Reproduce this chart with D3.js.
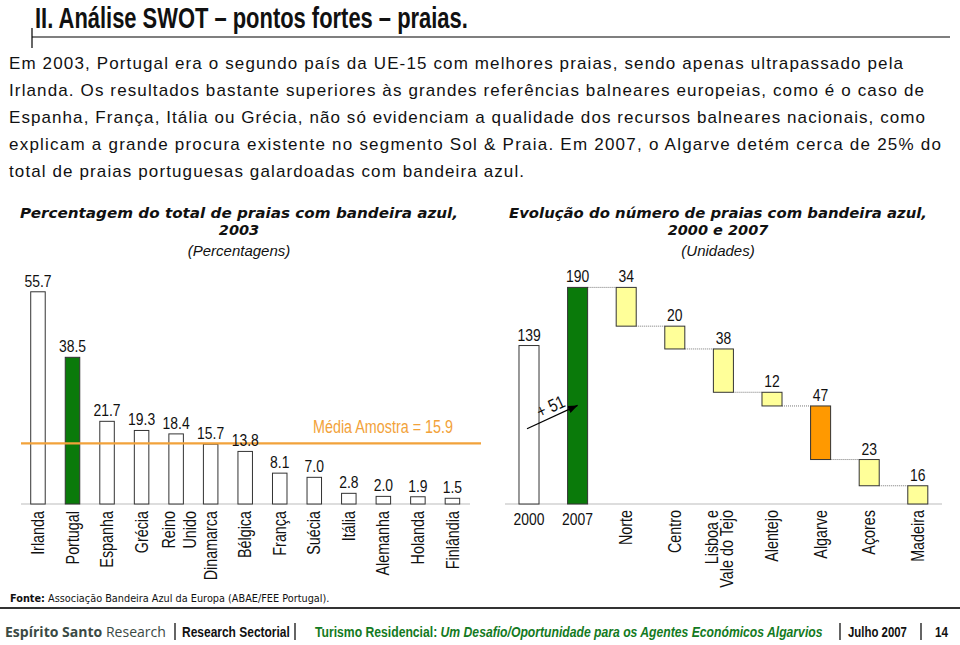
<!DOCTYPE html>
<html><head><meta charset="utf-8">
<script src="https://cdn.jsdelivr.net/npm/d3@7"></script>
<style>html,body{margin:0;padding:0;background:#fff;}svg{display:block;}</style>
</head><body>
<svg id="chart" width="960" height="645"></svg>
<script>
// ---------------- DATA ----------------
const countries = ["Irlanda","Portugal","Espanha","Grécia","Reino\nUnido","Dinamarca","Bélgica","França","Suécia","Itália","Alemanha","Holanda","Finlândia"];
const shares2003 = [55.7,38.5,21.7,19.3,18.4,15.7,13.8,8.1,7.0,2.8,2.0,1.9,1.5];
const sampleMean = 15.9;
const stages = ["2000","2007","Norte","Centro","Lisboa e\nVale do Tejo","Alentejo","Algarve","Açores","Madeira"];
const beachCounts = [139,190,34,20,38,12,47,23,16];
const growthLabel = "+ 51";
const paragraph = [
 "Em 2003, Portugal era o segundo país da UE-15 com melhores praias, sendo apenas ultrapassado pela",
 "Irlanda. Os resultados bastante superiores às grandes referências balneares europeias, como é o caso de",
 "Espanha, França, Itália ou Grécia, não só evidenciam a qualidade dos recursos balneares nacionais, como",
 "explicam a grande procura existente no segmento Sol & Praia. Em 2007, o Algarve detém cerca de 25% do",
 "total de praias portuguesas galardoadas com bandeira azul."
];

// ---------------- STYLE ----------------
const SANS = "'Liberation Sans',Arial,sans-serif";
const VERD = "'DejaVu Sans',Verdana,sans-serif";
const GREEN = "#0a7a0a", YELLOW = "#ffff99", ORANGE = "#ff9900", MEANC = "#f2a23a";
const NX = 0.82; // horizontal squeeze emulating a narrow face

const svg = d3.select("#chart");

function ntext(g, x, y, str, o={}){
  const rot = o.rotate ? ` rotate(${o.rotate})` : "";
  const t = g.append("text")
    .attr("transform",`translate(${x},${y})${rot} scale(${o.sx||NX},1)`)
    .attr("text-anchor",o.anchor||"start")
    .attr("font-family",SANS).attr("font-size",o.size||16)
    .attr("fill",o.fill||"#111");
  if(o.bold) t.attr("font-weight","bold");
  if(o.dy) t.attr("dy",o.dy);
  t.text(str);
  return t;
}
function fit(t, x, y, w){
  const L = t.node().getComputedTextLength();
  t.attr("transform",`translate(${x},${y}) scale(${w/L},1)`);
  return t;
}

// ---------------- HEADER ----------------
fit(svg.append("text").attr("font-family",SANS).attr("font-weight","bold").attr("font-size",30)
  .attr("fill","#111").text("II. Análise SWOT – pontos fortes – praias."), 35, 28, 433);
svg.append("line").attr("x1",32).attr("x2",950).attr("y1",37).attr("y2",37).attr("stroke","#000").attr("stroke-width",1.2);
svg.append("line").attr("x1",32).attr("x2",32).attr("y1",28).attr("y2",48).attr("stroke","#000").attr("stroke-width",1.2);

const paraWidths = [894,915,916,932,515];
svg.append("g").selectAll("text").data(paragraph).join("text")
  .attr("x",9).attr("y",(d,i)=>69+i*27)
  .attr("font-family",SANS).attr("font-size",17).attr("fill","#111")
  .attr("textLength",(d,i)=>paraWidths[i]).attr("lengthAdjust","spacing")
  .text(d=>d);

// ---------------- LEFT CHART ----------------
const xL = d3.scaleBand().domain(countries).range([20.7,469.7]).paddingInner(0.58).paddingOuter(0.29);
const yL = d3.scaleLinear().domain([0,60]).range([504,504-60*3.81]);
const gL = svg.append("g");

function title(g, cx, lines, w1){
  g.append("text").attr("x",cx).attr("y",218).attr("text-anchor","middle")
   .attr("font-family",VERD).attr("font-weight","bold").attr("font-style","italic").attr("font-size",14.5)
   .attr("fill","#111").attr("textLength",w1).attr("lengthAdjust","spacingAndGlyphs").text(lines[0]);
  g.append("text").attr("x",cx).attr("y",235).attr("text-anchor","middle")
   .attr("font-family",VERD).attr("font-weight","bold").attr("font-style","italic").attr("font-size",14.5)
   .attr("fill","#111").text(lines[1]);
  g.append("text").attr("x",cx).attr("y",256).attr("text-anchor","middle")
   .attr("font-family",SANS).attr("font-style","italic").attr("font-size",15)
   .attr("fill","#111").text(lines[2]);
}
title(gL, 239, ["Percentagem do total de praias com bandeira azul,","2003","(Percentagens)"],438);

gL.append("line").attr("x1",21).attr("x2",470).attr("y1",yL(0)).attr("y2",yL(0)).attr("stroke","#bbb").attr("stroke-width",1);
gL.selectAll("rect.bar").data(shares2003).join("rect").attr("class","bar")
  .attr("x",(d,i)=>xL(countries[i])).attr("width",xL.bandwidth())
  .attr("y",d=>yL(d)).attr("height",d=>yL(0)-yL(d))
  .attr("fill",(d,i)=>countries[i]==="Portugal"?GREEN:"#fff").attr("stroke","#333").attr("stroke-width",1);

gL.append("line").attr("x1",21).attr("x2",481).attr("y1",yL(sampleMean)).attr("y2",yL(sampleMean))
  .attr("stroke",MEANC).attr("stroke-width",2.2);
ntext(gL, 383, yL(sampleMean)-10, "Média Amostra = " + d3.format(".1f")(sampleMean), {anchor:"middle", size:17.5, fill:MEANC});

shares2003.forEach((d,i)=>{
  ntext(gL, xL(countries[i])+xL.bandwidth()/2, yL(d)-5, d3.format(".1f")(d), {anchor:"middle", size:17});
});

function rotLabels(g, scale, cats, topY, offs, fs){
  cats.forEach(c=>{
    const lines = c.split("\n");
    const cx = scale(c)+scale.bandwidth()/2;
    lines.forEach((ln,j)=>{
      const off = lines.length>1 ? offs[j] : 0;
      ntext(g, cx+off, topY, ln, {rotate:-90, anchor:"end", dy:"0.35em", size:fs});
    });
  });
}
rotLabels(gL, xL, countries, 511, [-7,14], 17.5);

const src = svg.append("text").attr("font-family",VERD).attr("font-size",10.5).attr("fill","#111");
src.append("tspan").attr("font-weight","bold").text("Fonte:");
src.append("tspan").text(" Associação Bandeira Azul da Europa (ABAE/FEE Portugal).");
fit(src, 10, 602, 320);
svg.append("line").attr("x1",0).attr("x2",960).attr("y1",608).attr("y2",608).attr("stroke","#333").attr("stroke-width",2);

// ---------------- RIGHT CHART (waterfall) ----------------
const xR = d3.scaleBand().domain(stages).range([504.7,942.1]).paddingInner(0.588).paddingOuter(0.294);
const yR = d3.scaleLinear().domain([0,200]).range([504,504-200*1.14]);
const gR = svg.append("g");
title(gR, 718, ["Evolução do número de praias com bandeira azul,","2000 e 2007","(Unidades)"],418);

let level = beachCounts[1];
const spans = beachCounts.map((v,i)=>{
  if(i<2) return {lo:0, hi:v};
  const s = {lo:level-v, hi:level}; level -= v; return s;
});
const fillFor = (i)=> i===0?"#fff": i===1?GREEN : stages[i]==="Algarve"?ORANGE:YELLOW;

gR.append("line").attr("x1",505).attr("x2",942).attr("y1",yR(0)).attr("y2",yR(0)).attr("stroke","#bbb").attr("stroke-width",1);

spans.forEach((s,i)=>{
  if(i<1 || i>=spans.length-1) return;
  const yv = i===1 ? s.hi : s.lo;
  gR.append("line").attr("x1",xR(stages[i])+xR.bandwidth()).attr("x2",xR(stages[i+1]))
    .attr("y1",yR(yv)).attr("y2",yR(yv)).attr("stroke","#777").attr("stroke-width",1).attr("stroke-dasharray","1,1");
});

gR.selectAll("rect.bar").data(spans).join("rect").attr("class","bar")
  .attr("x",(d,i)=>xR(stages[i])).attr("width",xR.bandwidth())
  .attr("y",d=>yR(d.hi)).attr("height",d=>yR(d.lo)-yR(d.hi))
  .attr("fill",(d,i)=>fillFor(i)).attr("stroke","#333").attr("stroke-width",1);

spans.forEach((d,i)=>{
  ntext(gR, xR(stages[i])+xR.bandwidth()/2, yR(d.hi)-5, String(beachCounts[i]), {anchor:"middle", size:17});
});

const ax1 = xR(stages[0])+xR.bandwidth()/2 - 2, ay1 = yR(66);
const ax2 = xR(stages[1])+xR.bandwidth()/2, ay2 = yR(86.5);
svg.append("defs").append("marker").attr("id","ah").attr("viewBox","0 0 10 10").attr("refX",10).attr("refY",5)
  .attr("markerWidth",8).attr("markerHeight",8).attr("orient","auto")
  .append("path").attr("d","M0,1 L10,5 L0,9 Z").attr("fill","#000");
gR.append("line").attr("x1",ax1).attr("y1",ay1).attr("x2",ax2).attr("y2",ay2)
  .attr("stroke","#000").attr("stroke-width",1.2).attr("marker-end","url(#ah)");
const ang = Math.atan2(ay2-ay1, ax2-ax1)*180/Math.PI;
ntext(gR, (ax1+ax2)/2+1, (ay1+ay2)/2-5, growthLabel, {rotate:ang, anchor:"middle", size:18});

stages.forEach((c,i)=>{
  if(i<2) ntext(gR, xR(c)+xR.bandwidth()/2, 525, c, {anchor:"middle", size:17});
});
rotLabels(gR, xR, stages.slice(2), 510, [-12,3], 17.5);

// ---------------- FOOTER ----------------
const f = svg.append("g");
const logo = f.append("text").attr("font-family","'Open Sans',sans-serif").attr("font-size",15).attr("fill","#3b4a44");
logo.append("tspan").attr("font-weight","bold").text("Espírito Santo");
logo.append("tspan").text(" Research");
fit(logo, 5, 637, 161);
[175,295,840,921].forEach(x=>f.append("line").attr("x1",x).attr("x2",x).attr("y1",623).attr("y2",640).attr("stroke","#111").attr("stroke-width",1.3));
fit(f.append("text").attr("font-family",SANS).attr("font-weight","bold").attr("font-size",14).attr("fill","#111")
  .text("Research Sectorial"), 182, 637, 108);
const t = f.append("text").attr("font-family",SANS).attr("font-weight","bold").attr("font-size",14).attr("fill","#137a22");
t.append("tspan").text("Turismo Residencial: ");
t.append("tspan").attr("font-style","italic").text("Um Desafio/Oportunidade para os Agentes Económicos Algarvios");
fit(t, 315, 637, 508);
fit(f.append("text").attr("font-family",SANS).attr("font-weight","bold").attr("font-size",14).attr("fill","#111")
  .text("Julho 2007"), 848, 637, 59);
fit(f.append("text").attr("font-family",SANS).attr("font-weight","bold").attr("font-size",14).attr("fill","#111")
  .text("14"), 935, 637, 13);
</script>
</body></html>
